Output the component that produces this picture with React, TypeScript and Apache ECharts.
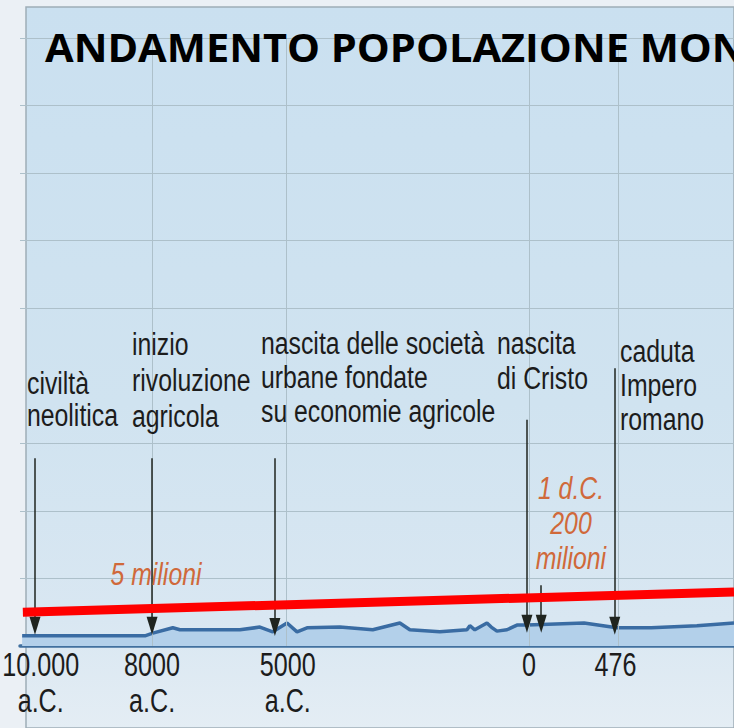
import React, { useEffect, useRef } from "react";
import * as echarts from "echarts";

// Timeline is drawn on a broken (non-linear) scale: x values are timeline units 0..100
const tickLabels = [["10.000", "a.C."], ["8000", "a.C."], ["5000", "a.C."], ["0"], ["476"]];
const tickPos = [2.9, 18.5, 37.5, 71.3, 83.4];
const gridPos = [18.5, 37.3, 71.3, 83.8];

// population curve (arbitrary vertical units of the drawing)
const curvePos = [0.3, 8.4, 17.5, 18.6, 21.4, 22.4, 30.8, 33.6, 35.4, 37.4, 38.8, 40.2, 44.8, 49.4, 53.2, 54.6, 58.8, 62.6, 63.0, 63.7, 65.4, 66.0, 66.8, 68.2, 69.6, 71.0, 79.0, 83.6, 88.4, 94.8, 100];
const curveVals = [0.15, 0.15, 0.15, 0.19, 0.27, 0.24, 0.24, 0.28, 0.21, 0.34, 0.21, 0.27, 0.28, 0.24, 0.34, 0.24, 0.21, 0.24, 0.30, 0.24, 0.34, 0.28, 0.22, 0.24, 0.31, 0.31, 0.34, 0.27, 0.27, 0.30, 0.34];

// red trend line
const trendPos = [0.4, 100];
const trendVals = [0.5, 0.8];

// events (arrows)
const eventPos = [2.1, 18.5, 35.7, 71.0, 73.0, 83.3];
const eventTop = [2.78, 2.78, 2.78, 3.35, 0.9, 4.11];
const eventTip = [0.3, 0.3, 0.28, 0.33, 0.33, 0.3];

const eventLabels = [
  ["civiltà", "neolitica"],
  ["inizio", "rivoluzione", "agricola"],
  ["nascita delle società", "urbane fondate", "su economie agricole"],
  ["nascita", "di Cristo"],
  ["caduta", "Impero", "romano"],
];
const valueNotes = [["5 milioni"], ["1 d.C.", "200", "milioni"]];

const TITLE = "ANDAMENTO POPOLAZIONE MONDIALE";

const SANS = "'Liberation Sans', Arial, sans-serif";

export default function App() {
  const ref = useRef<HTMLDivElement>(null);
  useEffect(() => {
    if (!ref.current) return;
    const chart = echarts.init(ref.current, null, { renderer: "svg" });

    const labelLayout = [
      { x: 27, y: 384, lh: 32 },
      { x: 132, y: 345, lh: 36 },
      { x: 261, y: 344, lh: 34 },
      { x: 497, y: 344, lh: 35 },
      { x: 620, y: 352, lh: 34 },
    ];
    const noteLayout = [
      { x: 156, y: 575, lh: 34 },
      { x: 571, y: 489, lh: 35 },
    ];

    const texts: any[] = [];
    eventLabels.forEach((lines, i) => {
      lines.forEach((t, j) => {
        texts.push({
          type: "text",
          x: labelLayout[i].x,
          y: labelLayout[i].y + j * labelLayout[i].lh,
          scaleX: 0.8,
          z: 20,
          style: {
            text: t,
            font: `31px ${SANS}`,
            fill: "#1c1c1c",
            textAlign: "left",
            textVerticalAlign: "middle",
          },
        });
      });
    });
    valueNotes.forEach((lines, i) => {
      lines.forEach((t, j) => {
        texts.push({
          type: "text",
          x: noteLayout[i].x,
          y: noteLayout[i].y + j * noteLayout[i].lh,
          scaleX: 0.8,
          z: 20,
          style: {
            text: t,
            font: `italic 31px ${SANS}`,
            fill: "#d0693a",
            textAlign: "center",
            textVerticalAlign: "middle",
          },
        });
      });
    });

    const gridColor = "#adc0ca";
    const splitColors = [gridColor, gridColor, gridColor, gridColor, "rgba(0,0,0,0)", gridColor, gridColor, gridColor, gridColor, gridColor];

    const baseGraphic = [
      {
        type: "rect",
        z: -100,
        shape: { x: 26, y: 7, width: 708, height: 721 },
        style: {
          fill: new echarts.graphic.LinearGradient(0, 0, 0, 1, [
            { offset: 0, color: "#cae0f0" },
            { offset: 0.55, color: "#d0e3f0" },
            { offset: 0.85, color: "#d9e7f2" },
            { offset: 1, color: "#e4edf4" },
          ]),
          stroke: "#9eadb7",
          lineWidth: 1.5,
        },
      },
      {
        type: "text",
        x: 45,
        y: 47,
        z: 30,
        scaleX: 1.065,
        style: {
          text: TITLE,
          font: "bold 39px 'Open Sans', sans-serif",
          fill: "#000000",
          textAlign: "left",
          textVerticalAlign: "middle",
        },
      },
      ...texts,
    ];

    chart.setOption({
      animation: false,
      backgroundColor: "#ebf0f5",
      grid: { left: 20, right: 0, top: 38, bottom: 82, outerBoundsMode: "none", containLabel: false },
      xAxis: {
        type: "value",
        min: 0,
        max: 100,
        axisLine: { show: true, onZero: false, lineStyle: { color: "#41709f", width: 3.5 } },
        axisTick: { show: false },
        splitLine: { show: false },
        axisLabel: { show: false },
      },
      yAxis: {
        type: "value",
        min: 0,
        max: 9,
        interval: 1,
        axisLine: { show: false },
        axisTick: { show: false },
        axisLabel: { show: false },
        splitLine: { show: true, lineStyle: { color: splitColors, width: 1 } },
      },
      graphic: baseGraphic,
      series: [
        {
          type: "line",
          data: [],
          silent: true,
          z: 1,
          markLine: {
            silent: true,
            symbol: ["none", "none"],
            label: { show: false },
            lineStyle: { color: gridColor, width: 1, type: "solid" },
            data: gridPos.map((p) => ({ xAxis: p })),
          },
        },
        {
          name: "popolazione",
          type: "line",
          data: curvePos.map((p, i) => [p, curveVals[i]]),
          showSymbol: false,
          symbol: "none",
          z: 3,
          lineStyle: { color: "#3a6ca3", width: 3.5 },
          areaStyle: { color: "#b3d0ea", opacity: 1 },
        },
        {
          type: "line",
          data: [],
          z: 4,
          markLine: {
            silent: true,
            symbol: ["none", "triangle"],
            symbolSize: [11, 18],
            label: { show: false },
            lineStyle: { color: "#1f241f", width: 1.5, type: "solid" },
            data: eventPos.map((p, i) => [
              { coord: [p, eventTop[i]] },
              { coord: [p, eventTip[i]] },
            ]),
          },
        },
        {
          name: "tendenza",
          type: "line",
          data: trendPos.map((p, i) => [p, trendVals[i]]),
          showSymbol: false,
          symbol: "none",
          z: 6,
          lineStyle: { color: "#ff0000", width: 9 },
        },
      ],
    });

    // tick labels of the broken time axis, placed through the axis scale
    const tickTexts: any[] = [];
    tickLabels.forEach((lines, i) => {
      const px = chart.convertToPixel({ xAxisIndex: 0 }, tickPos[i]) as number;
      lines.forEach((t, j) => {
        tickTexts.push({
          type: "text",
          x: px,
          y: 664 + j * 36,
          scaleX: 0.74,
          z: 20,
          style: {
            text: t,
            font: `34px ${SANS}`,
            fill: "#1c1c1c",
            textAlign: "center",
            textVerticalAlign: "middle",
          },
        });
      });
    });
    chart.setOption({ graphic: [...baseGraphic, ...tickTexts] }, { replaceMerge: ["graphic"] });

    return () => chart.dispose();
  }, []);
  return (
    <div
      ref={ref}
      style={{ position: "fixed", left: 0, top: 0, width: 734, height: 728, overflow: "hidden" }}
    />
  );
}
